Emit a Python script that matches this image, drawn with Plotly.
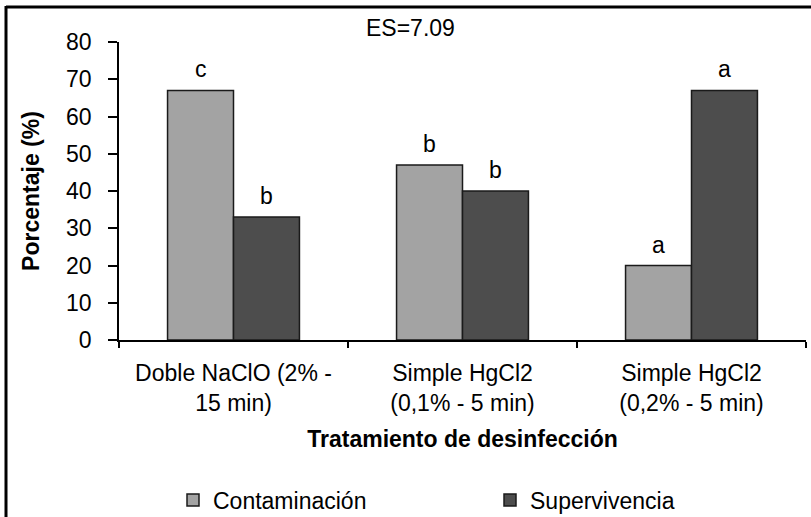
import plotly.graph_objects as go

categories = ["Doble NaClO (2% -<br>15 min)", "Simple HgCl2<br>(0,1% - 5 min)", "Simple HgCl2<br>(0,2% - 5 min)"]
contaminacion = [67, 47, 20]
supervivencia = [33, 40, 67]
letras_contaminacion = ["c", "b", "a"]
letras_supervivencia = ["b", "b", "a"]
y_ticks = [0, 10, 20, 30, 40, 50, 60, 70, 80]

FONT = "Liberation Sans, Arial, sans-serif"
LIGHT = "#A3A3A3"
DARK = "#4D4D4D"

fig = go.Figure()
fig.add_trace(go.Bar(
    x=categories, y=contaminacion, name="Contaminación", legend="legend",
    marker=dict(color=LIGHT, line=dict(color="#1a1a1a", width=1.5)),
))
fig.add_trace(go.Bar(
    x=categories, y=supervivencia, name="Supervivencia", legend="legend2",
    marker=dict(color=DARK, line=dict(color="#1a1a1a", width=1.5)),
))

annotations = []
for cat, v, t in zip(categories, contaminacion, letras_contaminacion):
    annotations.append(dict(x=cat, y=v, text=t, showarrow=False, xanchor="center",
                            yanchor="bottom", xshift=-33, yshift=6,
                            font=dict(family=FONT, size=23, color="black")))
for cat, v, t in zip(categories, supervivencia, letras_supervivencia):
    annotations.append(dict(x=cat, y=v, text=t, showarrow=False, xanchor="center",
                            yanchor="bottom", xshift=33, yshift=6,
                            font=dict(family=FONT, size=23, color="black")))
annotations.append(dict(x=0.4236, y=1.047, xref="paper", yref="paper", text="ES=7.09",
                        showarrow=False, xanchor="center", yanchor="middle",
                        font=dict(family=FONT, size=23, color="black")))

legend_common = dict(orientation="h", yanchor="middle", y=-0.537, xanchor="left",
                     font=dict(family=FONT, size=23, color="black"),
                     bgcolor="rgba(0,0,0,0)")

fig.update_layout(
    width=811, height=517,
    margin=dict(l=119, r=5, t=42, b=177, autoexpand=False),
    paper_bgcolor="white", plot_bgcolor="white",
    barmode="group", bargap=0.424, bargroupgap=0,
    font=dict(family=FONT, color="black"),
    annotations=annotations,
    showlegend=True,
    legend=dict(legend_common, x=(173 - 119) / 687),
    legend2=dict(legend_common, x=(490 - 119) / 687),
    shapes=[
        dict(type="line", xref="paper", yref="paper", x0=(6 - 119) / 687, x1=(6 - 119) / 687,
             y0=(340 - 6) / 298, y1=(340 - 530) / 298, line=dict(color="black", width=3)),
        dict(type="line", xref="paper", yref="paper", x0=(6 - 119) / 687, x1=(830 - 119) / 687,
             y0=(340 - 7) / 298, y1=(340 - 7) / 298, line=dict(color="black", width=3)),
    ],
)

fig.update_xaxes(
    automargin=False,
    showline=True, linecolor="black", linewidth=1.5,
    ticks="outside", tickson="boundaries", ticklen=6, tickcolor="black", tickwidth=1.5,
    tickfont=dict(family=FONT, size=23, color="black"),
    ticklabelstandoff=12,
    showgrid=False, zeroline=False,
    title=dict(text="<b>Tratamiento de desinfección</b>", standoff=16,
               font=dict(family=FONT, size=23, color="black")),
)
fig.update_yaxes(
    automargin=False,
    range=[0, 80], tickvals=y_ticks,
    showline=True, linecolor="black", linewidth=1.5,
    ticks="outside", ticklen=9, tickcolor="black", tickwidth=1.5,
    tickfont=dict(family=FONT, size=23, color="black"),
    ticklabelstandoff=12,
    showgrid=False, zeroline=False,
    title=dict(text="<b>Porcentaje (%)</b>", standoff=20,
               font=dict(family=FONT, size=23, color="black")),
)

fig.write_html("out.html", config={"displayModeBar": False},
               post_script="document.body.style.margin='0';")
